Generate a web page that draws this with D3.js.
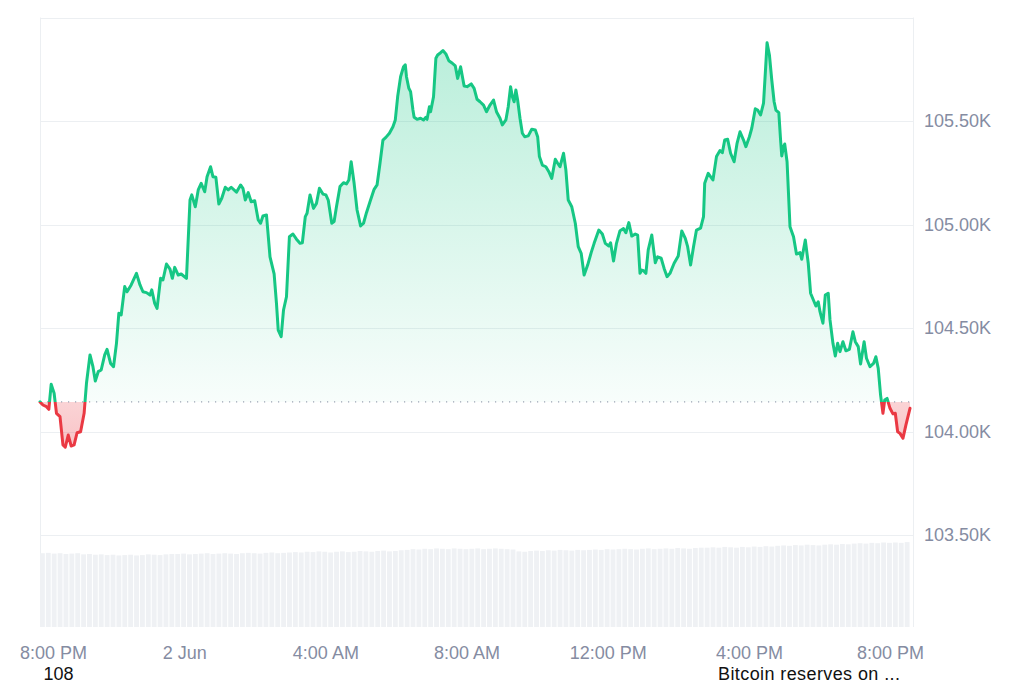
<!DOCTYPE html>
<html>
<head>
<meta charset="utf-8">
<script src="https://cdn.jsdelivr.net/npm/d3@7"></script>
<style>
  html, body { margin: 0; padding: 0; background: #fff; }
  svg { display: block; font-family: "Liberation Sans", Arial, sans-serif; }
</style>
</head>
<body>
<svg id="chart" width="1024" height="683"></svg>
<script>
// ---- data (minutes offset from 1 Jun 20:00, BTC price in USD) ----
const minutes = [-6,-1,5,9,13,18,22,28,33,37,42,47,52,57,63,69,73,79,84,88,93,98,104,108,114,119,124,128,132,138,142,149,158,164,169,175,181,184,189,193,199,203,209,215,219,223,229,234,243,249,252,258,263,268,274,278,284,288,293,298,303,309,314,319,328,335,339,343,348,353,359,365,369,373,379,385,392,396,399,404,408,413,418,424,430,436,440,445,448,453,459,464,469,475,480,484,490,494,498,504,510,515,519,523,528,533,539,544,549,555,562,567,572,577,582,588,594,598,602,607,612,615,617,621,624,628,630,635,641,646,650,652,656,658,663,667,670,675,679,684,689,695,700,704,709,715,720,727,732,737,742,748,753,759,765,770,776,780,786,790,794,797,800,803,806,810,814,818,824,830,836,840,843,848,854,859,864,870,874,878,884,888,892,898,904,909,914,919,925,931,936,944,950,955,961,964,969,974,980,986,990,995,1000,1006,1010,1014,1017,1020,1024,1028,1034,1040,1044,1050,1055,1060,1065,1072,1079,1085,1091,1095,1100,1105,1110,1117,1122,1124,1130,1138,1144,1150,1154,1158,1163,1168,1174,1179,1184,1190,1194,1200,1204,1210,1214,1219,1224,1227,1230,1234,1238,1242,1245,1250,1253,1255,1258,1260,1264,1269,1275,1280,1286,1289,1295,1300,1304,1310,1313,1317,1320,1325,1329,1334,1337,1342,1346,1350,1354,1359,1364,1370,1376,1380,1385,1389,1395,1399,1405,1411,1415,1419,1423,1427,1430,1434,1439,1444,1448,1452,1456,1461,1466,1473];

const prices = [104143,104128,104120,104107,104228,104185,104088,104072,103935,103924,103983,103930,103935,103994,103999,104088,104233,104370,104313,104244,104289,104297,104370,104397,104329,104313,104426,104571,104563,104700,104675,104708,104764,104708,104675,104671,104659,104684,104619,104595,104740,104732,104809,104784,104740,104793,104756,104761,104740,105118,105143,105086,105167,105199,105158,105231,105279,105231,105228,105099,105127,105180,105167,105180,105156,105191,105175,105118,105154,105110,105115,105022,105006,105041,105046,104844,104761,104619,104490,104458,104587,104651,104941,104954,104929,104909,104912,105038,105054,105143,105078,105102,105175,105147,105143,105118,105006,105014,105086,105183,105202,105196,105215,105303,105199,105070,104993,105006,105057,105110,105170,105191,105296,105408,105421,105441,105472,105505,105617,105714,105762,105771,105714,105658,105642,105553,105518,105508,105513,105505,105518,105508,105569,105545,105617,105803,105819,105830,105840,105824,105791,105779,105766,105706,105762,105669,105666,105679,105658,105605,105593,105577,105545,105577,105601,105545,105513,105481,105505,105569,105666,105617,105593,105650,105601,105513,105441,105424,105428,105460,105457,105424,105328,105287,105279,105255,105223,105315,105296,105279,105344,105263,105118,105086,105006,104893,104861,104756,104804,104864,104909,104973,104954,104909,104896,104912,104824,104909,104970,104980,104960,105009,104944,104954,104949,104764,104780,104777,104764,104877,104949,104815,104844,104837,104788,104748,104764,104813,104848,104969,104933,104893,104804,104893,104973,104982,105038,105199,105247,105215,105328,105357,105347,105408,105412,105344,105303,105392,105448,105408,105376,105424,105465,105559,105553,105529,105586,105730,105878,105819,105698,105593,105553,105540,105408,105331,105376,105389,105303,104989,104941,104857,104864,104832,104925,104813,104668,104627,104606,104627,104579,104523,104659,104668,104539,104426,104365,104426,104386,104434,104390,104397,104482,104434,104410,104326,104434,104354,104313,104329,104361,104305,104176,104088,104152,104160,104112,104085,104088,103999,103991,103967,104031,104112];

// volume bars, one per 10 minutes starting at the first price time (billions USD)
const volumes = [19.9,20.0,19.8,19.9,19.7,19.8,19.9,19.6,19.7,19.5,19.6,
  19.4,19.5,19.3,19.4,19.5,19.3,19.4,19.6,19.5,19.4,19.6,19.7,
  19.7,19.8,19.6,19.7,19.8,19.9,19.7,19.8,19.9,19.8,19.7,19.9,20.0,19.9,19.8,20.0,20.1,19.9,20.0,20.1,
  20.2,20.1,20.3,20.2,20.4,20.3,20.1,20.3,20.4,20.2,20.3,20.5,20.4,20.3,20.5,20.6,20.4,20.5,20.7,20.8,
  21.0,20.9,21.1,21.0,21.2,21.1,21.0,21.2,21.1,21.0,21.1,21.2,21.0,21.1,21.2,21.1,21.0,20.9,
  20.4,20.3,20.5,20.6,20.5,20.7,20.6,20.8,20.7,20.6,20.8,20.7,20.8,20.9,20.8,
  21.0,20.9,21.0,21.1,21.0,20.9,21.1,21.2,21.0,21.1,21.2,21.1,21.3,21.2,21.1,21.3,21.4,
  21.4,21.5,21.4,21.6,21.5,21.4,21.6,21.5,21.7,21.6,21.8,21.7,21.9,
  22.0,21.9,22.1,22.0,22.2,22.1,22.0,22.2,22.3,22.2,22.4,22.3,
  22.5,22.6,22.5,22.7,22.6,22.8,22.7,22.8,22.7,22.9];
const volumeStepMinutes = 10;

const priceTicks = [103500, 104000, 104500, 105000, 105500, 106000];
const annotations = [{ text: "108", minute: 0 }, { text: "Bitcoin reserves on ...", minute: null }];

// ---- setup ----
const W = 1024, H = 683;
const plot = { left: 40, right: 913, top: 17, bottom: 627, lineRight: 910 };
const base = new Date(2025, 5, 1, 20, 0, 0);
const toDate = m => new Date(base.getTime() + m * 60000);

const svg = d3.select("#chart");

if (minutes.length !== prices.length) {
  svg.append("text").attr("x", 20).attr("y", 40).attr("fill", "red")
    .text("length mismatch " + minutes.length + " vs " + prices.length);
}

const data = minutes.map((m, i) => ({ t: toDate(m), p: prices[i] }));

const x = d3.scaleTime()
  .domain([toDate(minutes[0]), toDate(minutes[minutes.length - 1])])
  .range([plot.left, plot.lineRight]);

const y = d3.scaleLinear().domain([103500, 106000]).range([535, 17.5]);

const vy = d3.scaleLinear().domain([0, 23.2]).range([plot.bottom, 541]);

const green = "#16c784", red = "#ea3943";
const grid = "#eceff2";

const defs = svg.append("defs");
const baseY = y(prices[0]);
const maxY = y(d3.max(prices));
const minY = y(d3.min(prices));

const gG = defs.append("linearGradient").attr("id", "gGreen")
  .attr("gradientUnits", "userSpaceOnUse").attr("x1", 0).attr("x2", 0)
  .attr("y1", maxY).attr("y2", baseY);
gG.append("stop").attr("offset", 0).attr("stop-color", green).attr("stop-opacity", 0.3);
gG.append("stop").attr("offset", 1).attr("stop-color", green).attr("stop-opacity", 0.03);

const gR = defs.append("linearGradient").attr("id", "gRed")
  .attr("gradientUnits", "userSpaceOnUse").attr("x1", 0).attr("x2", 0)
  .attr("y1", baseY).attr("y2", minY);
gR.append("stop").attr("offset", 0).attr("stop-color", red).attr("stop-opacity", 0.22);
gR.append("stop").attr("offset", 1).attr("stop-color", red).attr("stop-opacity", 0.3);

defs.append("clipPath").attr("id", "clipAbove").append("rect")
  .attr("x", 0).attr("y", 0).attr("width", W).attr("height", baseY);
defs.append("clipPath").attr("id", "clipBelow").append("rect")
  .attr("x", 0).attr("y", baseY).attr("width", W).attr("height", H - baseY);

// ---- gridlines & frame ----
svg.append("g").selectAll("line").data(priceTicks).join("line")
  .attr("x1", plot.left).attr("x2", plot.right)
  .attr("y1", d => Math.round(y(d)) + 0.5).attr("y2", d => Math.round(y(d)) + 0.5)
  .attr("stroke", grid).attr("stroke-width", 1);

svg.append("g").selectAll("line").data([plot.left, plot.right]).join("line")
  .attr("x1", d => d + 0.5).attr("x2", d => d + 0.5)
  .attr("y1", y(106000)).attr("y2", plot.bottom)
  .attr("stroke", grid).attr("stroke-width", 1);

// ---- volume bars ----
const step = x(toDate(volumeStepMinutes)) - x(toDate(0));
svg.append("g").selectAll("rect").data(volumes).join("rect")
  .attr("x", (d, i) => x(toDate(minutes[0] + i * volumeStepMinutes)))
  .attr("width", step * 0.82)
  .attr("y", d => vy(d))
  .attr("height", d => plot.bottom - vy(d))
  .attr("fill", "#eff1f4");

// ---- price area & line ----
const area = d3.area().x(d => x(d.t)).y0(baseY).y1(d => y(d.p));
const line = d3.line().x(d => x(d.t)).y(d => y(d.p));

svg.append("path").datum(data).attr("d", area)
  .attr("fill", "url(#gGreen)").attr("clip-path", "url(#clipAbove)");
svg.append("path").datum(data).attr("d", area)
  .attr("fill", "url(#gRed)").attr("clip-path", "url(#clipBelow)");

// baseline (open price)
svg.append("line")
  .attr("x1", plot.left).attr("x2", plot.right)
  .attr("y1", baseY).attr("y2", baseY)
  .attr("stroke", "#9aa3b4").attr("stroke-width", 1.2)
  .attr("stroke-dasharray", "1.2,5.8");

svg.append("path").datum(data).attr("d", line)
  .attr("fill", "none").attr("stroke", green).attr("stroke-width", 3)
  .attr("stroke-linejoin", "round").attr("stroke-linecap", "round")
  .attr("clip-path", "url(#clipAbove)");
svg.append("path").datum(data).attr("d", line)
  .attr("fill", "none").attr("stroke", red).attr("stroke-width", 3)
  .attr("stroke-linejoin", "round").attr("stroke-linecap", "round")
  .attr("clip-path", "url(#clipBelow)");

// ---- y axis labels (right) ----
svg.append("g").selectAll("text").data(priceTicks.filter(v => v < 106000)).join("text")
  .attr("x", plot.right + 11)
  .attr("y", d => y(d))
  .attr("dy", "0.36em")
  .attr("fill", "#858ca2")
  .attr("font-size", 18)
  .text(d => d3.format(".2f")(d / 1000) + "K");

// ---- x axis labels ----
const xTicks = x.ticks(d3.timeHour.every(4));
const fmt = d => d.getHours() === 0 ? d3.timeFormat("%-d %b")(d) : d3.timeFormat("%-I:%M %p")(d);
const xl = svg.append("g").selectAll("text").data(xTicks).join("text")
  .attr("x", d => x(d))
  .attr("y", 659)
  .attr("text-anchor", "middle")
  .attr("fill", "#858ca2")
  .attr("font-size", 18)
  .text(fmt);
// keep labels from running off the left side
xl.each(function () {
  const b = this.getBBox();
  if (b.x < 20) d3.select(this).attr("x", +d3.select(this).attr("x") + (20 - b.x));
});

// ---- annotations under the axis ----
svg.append("text")
  .attr("x", x(toDate(annotations[0].minute)))
  .attr("y", 680).attr("fill", "#111").attr("font-size", 18)
  .text(annotations[0].text);
svg.append("text")
  .attr("x", 900).attr("y", 680).attr("text-anchor", "end")
  .attr("fill", "#111").attr("font-size", 18).attr("textLength", 182)
  .text(annotations[1].text);
</script>
</body>
</html>
